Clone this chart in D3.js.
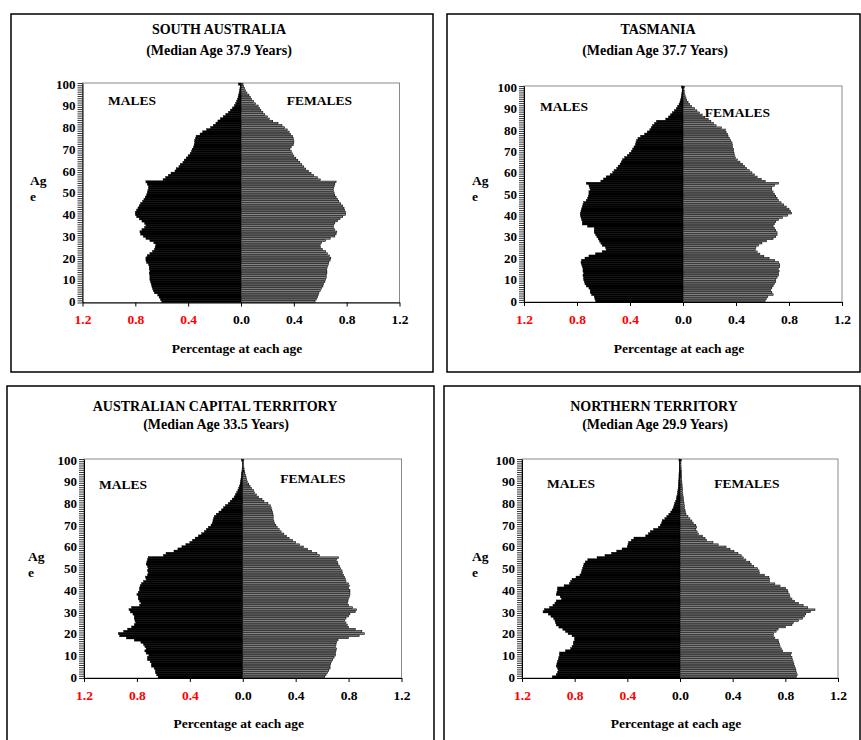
<!DOCTYPE html>
<html>
<head>
<meta charset="utf-8">
<script src="https://cdn.jsdelivr.net/npm/d3@7"></script>
<style>
body { margin: 0; background: #fff; }
svg text { font-family: "Liberation Serif", "Times New Roman", serif; font-weight: bold; fill: #000; }
</style>
</head>
<body>
<div id="chart"></div>
<script>
// ages 0..100 (single years)
const ages = [0,1,2,3,4,5,6,7,8,9,10,11,12,13,14,15,16,17,18,19,20,21,22,23,24,25,26,27,28,29,30,
  31,32,33,34,35,36,37,38,39,40,41,42,43,44,45,46,47,48,49,50,51,52,53,54,55,56,57,58,59,60,
  61,62,63,64,65,66,67,68,69,70,71,72,73,74,75,76,77,78,79,80,81,82,83,84,85,86,87,88,89,90,
  91,92,93,94,95,96,97,98,99,100];
const ageLabels = [0,10,20,30,40,50,60,70,80,90,100];
const pctTicks = [-1.2,-0.8,-0.4,0,0.4,0.8,1.2];

const titles = ["SOUTH AUSTRALIA","TASMANIA","AUSTRALIAN CAPITAL TERRITORY","NORTHERN TERRITORY"];
const medians = ["(Median Age 37.9 Years)","(Median Age 37.7 Years)","(Median Age 33.5 Years)","(Median Age 29.9 Years)"];

// percentage at each age, index = age
const saMale = [0.60,0.61,0.62,0.63,0.655,0.665,0.67,0.675,0.68,0.685,
  0.69,0.69,0.69,0.695,0.69,0.695,0.695,0.70,0.715,0.72,
  0.72,0.71,0.69,0.67,0.655,0.65,0.645,0.66,0.69,0.72,
  0.74,0.76,0.765,0.75,0.73,0.72,0.73,0.75,0.77,0.79,
  0.80,0.80,0.79,0.78,0.77,0.76,0.745,0.735,0.725,0.715,
  0.71,0.705,0.70,0.70,0.71,0.72,0.59,0.57,0.55,0.53,
  0.50,0.49,0.47,0.46,0.44,0.43,0.415,0.40,0.385,0.375,
  0.37,0.36,0.355,0.35,0.35,0.345,0.34,0.31,0.29,0.26,
  0.23,0.21,0.19,0.175,0.155,0.135,0.115,0.095,0.08,0.065,
  0.05,0.04,0.033,0.027,0.022,0.018,0.014,0.01,0.008,0.006,0.02];
const saFemale = [0.56,0.57,0.58,0.585,0.59,0.60,0.61,0.62,0.625,0.635,
  0.64,0.645,0.645,0.65,0.65,0.65,0.655,0.66,0.665,0.675,
  0.68,0.67,0.655,0.64,0.615,0.60,0.60,0.61,0.64,0.675,
  0.71,0.72,0.725,0.71,0.70,0.70,0.71,0.73,0.75,0.77,
  0.79,0.79,0.785,0.78,0.77,0.755,0.74,0.73,0.72,0.71,
  0.705,0.70,0.70,0.705,0.71,0.72,0.60,0.58,0.55,0.53,
  0.51,0.49,0.475,0.46,0.445,0.43,0.415,0.40,0.39,0.38,
  0.37,0.38,0.395,0.40,0.40,0.395,0.39,0.375,0.365,0.35,
  0.33,0.31,0.28,0.24,0.215,0.20,0.18,0.165,0.15,0.14,
  0.13,0.11,0.095,0.08,0.07,0.06,0.045,0.035,0.025,0.02,0.015];
const tasMale = [0.66,0.665,0.67,0.69,0.70,0.70,0.71,0.73,0.74,0.745,
  0.75,0.75,0.755,0.75,0.755,0.755,0.76,0.765,0.77,0.765,
  0.74,0.71,0.66,0.61,0.58,0.585,0.61,0.62,0.63,0.64,
  0.65,0.66,0.67,0.67,0.67,0.72,0.76,0.76,0.765,0.77,
  0.775,0.775,0.77,0.765,0.76,0.755,0.75,0.73,0.72,0.715,
  0.71,0.71,0.70,0.705,0.71,0.73,0.62,0.60,0.58,0.55,
  0.53,0.52,0.50,0.49,0.475,0.465,0.455,0.44,0.42,0.405,
  0.39,0.38,0.37,0.36,0.355,0.35,0.34,0.32,0.29,0.27,
  0.25,0.24,0.23,0.215,0.20,0.13,0.11,0.095,0.08,0.065,
  0.05,0.04,0.03,0.023,0.018,0.014,0.011,0.009,0.007,0.006,0.012];
const tasFemale = [0.62,0.63,0.64,0.68,0.67,0.66,0.67,0.68,0.69,0.70,
  0.70,0.71,0.72,0.72,0.725,0.72,0.73,0.73,0.72,0.69,
  0.65,0.61,0.58,0.56,0.545,0.55,0.57,0.595,0.63,0.68,
  0.70,0.71,0.71,0.70,0.69,0.68,0.69,0.70,0.72,0.75,
  0.79,0.82,0.81,0.80,0.78,0.76,0.74,0.72,0.71,0.70,
  0.69,0.68,0.67,0.67,0.69,0.72,0.62,0.59,0.56,0.54,
  0.52,0.50,0.48,0.465,0.45,0.43,0.41,0.395,0.39,0.385,
  0.38,0.38,0.375,0.375,0.37,0.36,0.35,0.34,0.335,0.325,
  0.32,0.29,0.25,0.23,0.21,0.19,0.165,0.145,0.125,0.105,
  0.085,0.065,0.05,0.038,0.028,0.022,0.016,0.012,0.009,0.007,0.01];
const actMale = [0.64,0.65,0.66,0.66,0.67,0.69,0.69,0.70,0.72,0.72,
  0.71,0.73,0.74,0.73,0.74,0.75,0.77,0.82,0.88,0.93,
  0.94,0.90,0.87,0.84,0.82,0.81,0.815,0.82,0.82,0.83,
  0.85,0.86,0.84,0.78,0.77,0.78,0.79,0.79,0.80,0.79,
  0.78,0.78,0.775,0.765,0.75,0.73,0.735,0.72,0.715,0.72,
  0.715,0.72,0.73,0.725,0.72,0.715,0.60,0.58,0.52,0.49,
  0.46,0.43,0.40,0.38,0.36,0.335,0.31,0.29,0.275,0.26,
  0.24,0.23,0.225,0.22,0.215,0.20,0.18,0.16,0.145,0.13,
  0.11,0.095,0.08,0.065,0.055,0.045,0.037,0.03,0.025,0.02,
  0.017,0.014,0.012,0.01,0.008,0.006,0.005,0.004,0.003,0.003,0.008];
const actFemale = [0.62,0.63,0.64,0.65,0.66,0.66,0.665,0.67,0.68,0.69,
  0.70,0.70,0.705,0.71,0.70,0.705,0.71,0.72,0.80,0.88,
  0.92,0.90,0.85,0.80,0.79,0.78,0.77,0.78,0.80,0.81,
  0.85,0.86,0.83,0.80,0.79,0.795,0.80,0.805,0.81,0.81,
  0.81,0.80,0.805,0.80,0.78,0.775,0.77,0.76,0.755,0.75,
  0.74,0.73,0.72,0.715,0.71,0.725,0.58,0.56,0.52,0.49,
  0.46,0.43,0.40,0.375,0.35,0.33,0.31,0.29,0.275,0.26,
  0.25,0.24,0.235,0.23,0.23,0.228,0.225,0.22,0.215,0.21,
  0.19,0.16,0.145,0.12,0.105,0.09,0.08,0.065,0.055,0.045,
  0.035,0.03,0.025,0.02,0.016,0.013,0.01,0.008,0.006,0.005,0.008];
const ntMale = [0.97,0.94,0.93,0.925,0.93,0.94,0.935,0.93,0.925,0.92,
  0.915,0.915,0.87,0.83,0.82,0.81,0.81,0.80,0.80,0.82,
  0.85,0.87,0.89,0.92,0.94,0.945,0.95,0.96,0.98,1.00,
  1.04,1.03,0.99,0.965,0.95,0.94,0.90,0.91,0.94,0.935,
  0.93,0.93,0.88,0.84,0.83,0.82,0.79,0.76,0.75,0.745,
  0.74,0.735,0.73,0.72,0.70,0.63,0.57,0.52,0.48,0.44,
  0.40,0.395,0.39,0.37,0.35,0.26,0.24,0.225,0.20,0.165,
  0.15,0.14,0.135,0.115,0.10,0.085,0.07,0.06,0.05,0.045,
  0.04,0.033,0.028,0.025,0.02,0.018,0.016,0.014,0.012,0.011,
  0.01,0.009,0.008,0.008,0.007,0.006,0.006,0.005,0.005,0.005,0.008];
const ntFemale = [0.885,0.89,0.885,0.88,0.875,0.87,0.865,0.86,0.855,0.85,
  0.84,0.845,0.78,0.77,0.76,0.755,0.75,0.745,0.72,0.71,
  0.71,0.73,0.745,0.80,0.85,0.86,0.90,0.93,0.945,0.955,
  0.99,1.025,0.97,0.935,0.90,0.87,0.85,0.835,0.83,0.82,
  0.815,0.80,0.76,0.72,0.68,0.68,0.675,0.64,0.605,0.60,
  0.59,0.56,0.54,0.53,0.50,0.48,0.465,0.44,0.41,0.38,
  0.35,0.29,0.25,0.20,0.19,0.17,0.14,0.13,0.12,0.125,
  0.12,0.10,0.09,0.075,0.06,0.045,0.04,0.038,0.035,0.033,
  0.03,0.028,0.026,0.024,0.022,0.02,0.018,0.017,0.016,0.015,
  0.014,0.013,0.012,0.011,0.01,0.01,0.009,0.008,0.007,0.007,0.01];

// page layout of the four panels
const panels = [
  {box:[11,14,433,372], left:82.5, right:399.5, top:83, bottom:302.5,
   titleX:219, subX:219, titleY:34, subY:55, malesX:132, malesY:105, femalesX:319.5, femalesY:105,
   ageX:30, ageY:185, pctY:353},
  {box:[447,14,860,372], left:524, right:842, top:86, bottom:302,
   titleX:658, subX:655, titleY:34, subY:55, malesX:564, malesY:111, femalesX:737.5, femalesY:117,
   ageX:472, ageY:185, pctY:353},
  {box:[7,386,434,760], left:84, right:401.5, top:459, bottom:678,
   titleX:215, subX:216, titleY:411, subY:429, malesX:123, malesY:489, femalesX:313, femalesY:483,
   ageX:28, ageY:561, pctY:728},
  {box:[444,386,860,760], left:522, right:838, top:459, bottom:678,
   titleX:654, subX:655, titleY:411, subY:429, malesX:571, malesY:488, femalesX:747, femalesY:488,
   ageX:472, ageY:561, pctY:728}
];
const maleSeries = [saMale, tasMale, actMale, ntMale];
const femaleSeries = [saFemale, tasFemale, actFemale, ntFemale];

const svg = d3.select('#chart')
  .append('svg')
  .attr('width', 861)
  .attr('height', 740)

function drawPanel(i) {
  const p = panels[i]
  const males = maleSeries[i]
  const females = femaleSeries[i]
  const g = svg.append('g')

  g.append('rect')
    .attr('x', p.box[0]).attr('y', p.box[1])
    .attr('width', p.box[2] - p.box[0]).attr('height', p.box[3] - p.box[1])
    .attr('fill', 'none').attr('stroke', '#000').attr('stroke-width', 1.5)

  g.append('text').attr('x', p.titleX).attr('y', p.titleY)
    .attr('text-anchor', 'middle').style('font-size', '14px').text(titles[i])
  g.append('text').attr('x', p.subX).attr('y', p.subY)
    .attr('text-anchor', 'middle').style('font-size', '14px').text(medians[i])

  const x = d3.scaleLinear().domain([-1.2, 1.2]).range([p.left, p.right])
  const y = d3.scaleLinear().domain([-0.5, 100.5]).range([p.bottom, p.top])

  // plot frame (grey top / right)
  g.append('rect')
    .attr('x', p.left).attr('y', p.top)
    .attr('width', p.right - p.left).attr('height', p.bottom - p.top)
    .attr('fill', 'none').attr('stroke', '#8a8a8a').attr('stroke-width', 1)

  // males: solid black
  g.selectAll('rect.male')
    .data(ages)
    .enter()
    .append('rect')
    .attr('class', 'male')
    .attr('x', a => x(-males[a]))
    .attr('y', a => y(a + 0.5))
    .attr('width', a => x(0) - x(-males[a]))
    .attr('height', a => y(a - 0.5) - y(a + 0.5))
    .attr('fill', '#000')
    .attr('stroke', '#000')
    .attr('stroke-width', 0.4)

  // females: grey bars with black outline
  g.selectAll('rect.female')
    .data(ages)
    .enter()
    .append('rect')
    .attr('class', 'female')
    .attr('x', x(0))
    .attr('y', a => y(a + 0.5) + 0.3)
    .attr('width', a => x(females[a]) - x(0))
    .attr('height', a => y(a - 0.5) - y(a + 0.5) - 0.6)
    .attr('fill', '#8c8c8c')
    .attr('stroke', '#000')
    .attr('stroke-width', 0.6)

  g.append('text').attr('x', p.malesX).attr('y', p.malesY)
    .attr('text-anchor', 'middle').style('font-size', '13.5px').text('MALES')
  g.append('text').attr('x', p.femalesX).attr('y', p.femalesY)
    .attr('text-anchor', 'middle').style('font-size', '13.5px').text('FEMALES')

  // y axis: a tick at every year boundary, labels every 10 years
  const yMinor = g.append('g')
    .attr('transform', `translate(${p.left},0)`)
    .call(d3.axisLeft(y).tickValues(ages.map(a => a - 0.5).concat([100.5])).tickSize(5).tickSizeOuter(0).tickFormat(''))
  yMinor.selectAll('line').attr('stroke-width', 0.8)
  const yLab = g.append('g')
    .attr('transform', `translate(${p.left},0)`)
    .call(d3.axisLeft(y).tickValues(ageLabels).tickSize(0).tickPadding(7))
  yLab.select('.domain').remove()
  yLab.selectAll('text')
    .style('font-size', '13px')
    .style('font-family', '"Liberation Serif", serif')
    .style('font-weight', 'bold')

  // x axis
  const xAx = g.append('g')
    .attr('transform', `translate(0,${p.bottom})`)
    .call(d3.axisBottom(x).tickValues(pctTicks).tickSize(4).tickSizeOuter(0).tickPadding(8)
      .tickFormat(d => Math.abs(d).toFixed(1)))
  xAx.select('.domain').attr('stroke-width', 1.2)
  xAx.selectAll('text')
    .style('font-size', '13.5px')
    .style('font-family', '"Liberation Serif", serif')
    .style('font-weight', 'bold')
    .style('fill', d => d < 0 ? '#ff0000' : '#000')

  g.append('text').attr('x', x(0) - 4).attr('y', p.pctY)
    .attr('text-anchor', 'middle').style('font-size', '13.5px').text('Percentage at each age')

  g.append('text').attr('x', p.ageX).attr('y', p.ageY).style('font-size', '13.5px').text('Ag')
  g.append('text').attr('x', p.ageX).attr('y', p.ageY + 16).style('font-size', '13.5px').text('e')
}

drawPanel(0)
drawPanel(1)
drawPanel(2)
drawPanel(3)
</script>
</body>
</html>
